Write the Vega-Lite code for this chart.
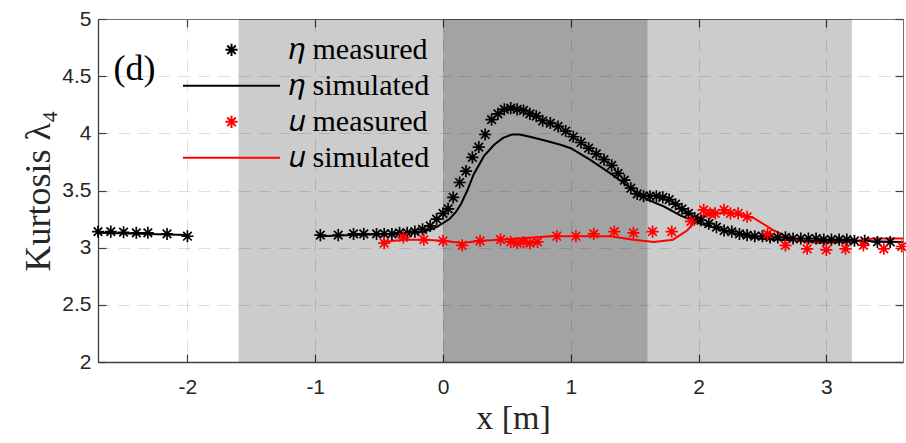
{
  "$schema": "https://vega.github.io/schema/vega-lite/v6.json",
  "width": 805,
  "height": 343,
  "autosize": "none",
  "padding": {"left": 98, "top": 19, "right": 3, "bottom": 81},
  "background": "white",
  "config": {
    "view": {"stroke": null},
    "font": "Liberation Sans",
    "axisBottom": {
      "grid": true, "gridDash": [12, 8], "gridColor": "#262626", "gridOpacity": 0.15, "gridWidth": 1,
      "domainColor": "#404040", "domainWidth": 1.3, "tickColor": "#404040", "tickSize": -8, "tickWidth": 1.2,
      "labelFont": "Liberation Sans", "labelFontSize": 21, "labelColor": "#262626", "labelPadding": 22,
      "titleFont": "Liberation Serif", "titleFontSize": 34, "titleFontWeight": "normal", "titleColor": "#262626", "titlePadding": 4,
      "zindex": 1
    },
    "axisLeft": {
      "grid": true, "gridDash": [12, 8], "gridColor": "#262626", "gridOpacity": 0.15, "gridWidth": 1,
      "domainColor": "#404040", "domainWidth": 1.3, "tickColor": "#404040", "tickSize": -8, "tickWidth": 1.2,
      "labelFont": "Liberation Sans", "labelFontSize": 21, "labelColor": "#262626", "labelPadding": 15,
      "titleFont": "Liberation Serif", "titleFontSize": 36, "titleFontWeight": "normal", "titleColor": "#262626", "titlePadding": 4,
      "zindex": 1
    },
    "axisTop": {
      "grid": false, "labels": false, "domainColor": "#707070", "domainWidth": 1, "tickColor": "#404040", "tickSize": -8, "tickWidth": 1.2, "zindex": 1
    },
    "axisRight": {
      "grid": false, "labels": false, "domainColor": "#707070", "domainWidth": 1, "tickColor": "#404040", "tickSize": -8, "tickWidth": 1.2, "zindex": 1
    }
  },
  "datasets": {
    "bands": [
      {"x0": -1.6, "x1": 3.2, "y0": 2, "y1": 5, "zone": "light"},
      {"x0": 0, "x1": 1.6, "y0": 2, "y1": 5, "zone": "dark"}
    ],
    "sim": [
      {"s": "𝜂 simulated", "g": "a", "x": -2.70, "y": 3.13},
      {"s": "𝜂 simulated", "g": "a", "x": -2.00, "y": 3.11},
      {"s": "𝜂 simulated", "g": "b", "x": -0.96, "y": 3.10},
      {"s": "𝜂 simulated", "g": "b", "x": -0.70, "y": 3.11},
      {"s": "𝜂 simulated", "g": "b", "x": -0.40, "y": 3.12},
      {"s": "𝜂 simulated", "g": "b", "x": -0.25, "y": 3.13},
      {"s": "𝜂 simulated", "g": "b", "x": -0.15, "y": 3.14},
      {"s": "𝜂 simulated", "g": "b", "x": -0.05, "y": 3.18},
      {"s": "𝜂 simulated", "g": "b", "x": 0.05, "y": 3.25},
      {"s": "𝜂 simulated", "g": "b", "x": 0.10, "y": 3.31},
      {"s": "𝜂 simulated", "g": "b", "x": 0.14, "y": 3.38},
      {"s": "𝜂 simulated", "g": "b", "x": 0.19, "y": 3.50},
      {"s": "𝜂 simulated", "g": "b", "x": 0.24, "y": 3.64},
      {"s": "𝜂 simulated", "g": "b", "x": 0.32, "y": 3.80},
      {"s": "𝜂 simulated", "g": "b", "x": 0.40, "y": 3.90},
      {"s": "𝜂 simulated", "g": "b", "x": 0.47, "y": 3.96},
      {"s": "𝜂 simulated", "g": "b", "x": 0.54, "y": 3.99},
      {"s": "𝜂 simulated", "g": "b", "x": 0.60, "y": 3.99},
      {"s": "𝜂 simulated", "g": "b", "x": 0.68, "y": 3.97},
      {"s": "𝜂 simulated", "g": "b", "x": 0.79, "y": 3.94},
      {"s": "𝜂 simulated", "g": "b", "x": 0.92, "y": 3.90},
      {"s": "𝜂 simulated", "g": "b", "x": 1.00, "y": 3.87},
      {"s": "𝜂 simulated", "g": "b", "x": 1.15, "y": 3.77},
      {"s": "𝜂 simulated", "g": "b", "x": 1.31, "y": 3.65},
      {"s": "𝜂 simulated", "g": "b", "x": 1.47, "y": 3.52},
      {"s": "𝜂 simulated", "g": "b", "x": 1.60, "y": 3.42},
      {"s": "𝜂 simulated", "g": "b", "x": 1.73, "y": 3.36},
      {"s": "𝜂 simulated", "g": "b", "x": 1.86, "y": 3.28},
      {"s": "𝜂 simulated", "g": "b", "x": 2.01, "y": 3.21},
      {"s": "𝜂 simulated", "g": "b", "x": 2.17, "y": 3.16},
      {"s": "𝜂 simulated", "g": "b", "x": 2.33, "y": 3.11},
      {"s": "𝜂 simulated", "g": "b", "x": 2.48, "y": 3.08},
      {"s": "𝜂 simulated", "g": "b", "x": 2.65, "y": 3.07},
      {"s": "𝜂 simulated", "g": "b", "x": 2.90, "y": 3.06},
      {"s": "𝜂 simulated", "g": "b", "x": 3.20, "y": 3.06},
      {"s": "𝜂 simulated", "g": "b", "x": 3.60, "y": 3.05},
      {"s": "𝑢 simulated", "g": "c", "x": -0.48, "y": 3.05},
      {"s": "𝑢 simulated", "g": "c", "x": -0.30, "y": 3.07},
      {"s": "𝑢 simulated", "g": "c", "x": -0.15, "y": 3.07},
      {"s": "𝑢 simulated", "g": "c", "x": 0.00, "y": 3.06},
      {"s": "𝑢 simulated", "g": "c", "x": 0.15, "y": 3.04},
      {"s": "𝑢 simulated", "g": "c", "x": 0.30, "y": 3.06},
      {"s": "𝑢 simulated", "g": "c", "x": 0.45, "y": 3.07},
      {"s": "𝑢 simulated", "g": "c", "x": 0.84, "y": 3.10},
      {"s": "𝑢 simulated", "g": "c", "x": 1.31, "y": 3.10},
      {"s": "𝑢 simulated", "g": "c", "x": 1.49, "y": 3.07},
      {"s": "𝑢 simulated", "g": "c", "x": 1.65, "y": 3.05},
      {"s": "𝑢 simulated", "g": "c", "x": 1.80, "y": 3.07},
      {"s": "𝑢 simulated", "g": "c", "x": 1.91, "y": 3.15},
      {"s": "𝑢 simulated", "g": "c", "x": 2.01, "y": 3.27},
      {"s": "𝑢 simulated", "g": "c", "x": 2.12, "y": 3.30},
      {"s": "𝑢 simulated", "g": "c", "x": 2.27, "y": 3.30},
      {"s": "𝑢 simulated", "g": "c", "x": 2.43, "y": 3.26},
      {"s": "𝑢 simulated", "g": "c", "x": 2.59, "y": 3.15},
      {"s": "𝑢 simulated", "g": "c", "x": 2.74, "y": 3.07},
      {"s": "𝑢 simulated", "g": "c", "x": 2.93, "y": 3.04},
      {"s": "𝑢 simulated", "g": "c", "x": 3.16, "y": 3.05},
      {"s": "𝑢 simulated", "g": "c", "x": 3.37, "y": 3.08},
      {"s": "𝑢 simulated", "g": "c", "x": 3.60, "y": 3.08}
    ],
    "meas": [
      {"s": "𝜂 measured", "x": -2.70, "y": 3.14},
      {"s": "𝜂 measured", "x": -2.60, "y": 3.14},
      {"s": "𝜂 measured", "x": -2.50, "y": 3.135},
      {"s": "𝜂 measured", "x": -2.40, "y": 3.13},
      {"s": "𝜂 measured", "x": -2.31, "y": 3.13},
      {"s": "𝜂 measured", "x": -2.16, "y": 3.12},
      {"s": "𝜂 measured", "x": -2.00, "y": 3.10},
      {"s": "𝜂 measured", "x": -0.96, "y": 3.11},
      {"s": "𝜂 measured", "x": -0.82, "y": 3.11},
      {"s": "𝜂 measured", "x": -0.70, "y": 3.12},
      {"s": "𝜂 measured", "x": -0.62, "y": 3.12},
      {"s": "𝜂 measured", "x": -0.52, "y": 3.12},
      {"s": "𝜂 measured", "x": -0.46, "y": 3.12},
      {"s": "𝜂 measured", "x": -0.40, "y": 3.12},
      {"s": "𝜂 measured", "x": -0.34, "y": 3.13},
      {"s": "𝜂 measured", "x": -0.28, "y": 3.13},
      {"s": "𝜂 measured", "x": -0.22, "y": 3.14},
      {"s": "𝜂 measured", "x": -0.16, "y": 3.16},
      {"s": "𝜂 measured", "x": -0.10, "y": 3.19},
      {"s": "𝜂 measured", "x": -0.05, "y": 3.25},
      {"s": "𝜂 measured", "x": 0.00, "y": 3.30},
      {"s": "𝜂 measured", "x": 0.04, "y": 3.34},
      {"s": "𝜂 measured", "x": 0.08, "y": 3.44},
      {"s": "𝜂 measured", "x": 0.13, "y": 3.57},
      {"s": "𝜂 measured", "x": 0.18, "y": 3.67},
      {"s": "𝜂 measured", "x": 0.23, "y": 3.79},
      {"s": "𝜂 measured", "x": 0.28, "y": 3.88},
      {"s": "𝜂 measured", "x": 0.33, "y": 3.99},
      {"s": "𝜂 measured", "x": 0.38, "y": 4.12},
      {"s": "𝜂 measured", "x": 0.43, "y": 4.17},
      {"s": "𝜂 measured", "x": 0.48, "y": 4.21},
      {"s": "𝜂 measured", "x": 0.53, "y": 4.22},
      {"s": "𝜂 measured", "x": 0.58, "y": 4.21},
      {"s": "𝜂 measured", "x": 0.63, "y": 4.20},
      {"s": "𝜂 measured", "x": 0.68, "y": 4.17},
      {"s": "𝜂 measured", "x": 0.73, "y": 4.15},
      {"s": "𝜂 measured", "x": 0.78, "y": 4.11},
      {"s": "𝜂 measured", "x": 0.84, "y": 4.09},
      {"s": "𝜂 measured", "x": 0.90, "y": 4.06},
      {"s": "𝜂 measured", "x": 0.96, "y": 4.02},
      {"s": "𝜂 measured", "x": 1.02, "y": 3.97},
      {"s": "𝜂 measured", "x": 1.08, "y": 3.92},
      {"s": "𝜂 measured", "x": 1.14, "y": 3.87},
      {"s": "𝜂 measured", "x": 1.20, "y": 3.82},
      {"s": "𝜂 measured", "x": 1.26, "y": 3.77},
      {"s": "𝜂 measured", "x": 1.32, "y": 3.72},
      {"s": "𝜂 measured", "x": 1.37, "y": 3.65},
      {"s": "𝜂 measured", "x": 1.42, "y": 3.59},
      {"s": "𝜂 measured", "x": 1.47, "y": 3.52},
      {"s": "𝜂 measured", "x": 1.52, "y": 3.47},
      {"s": "𝜂 measured", "x": 1.57, "y": 3.45},
      {"s": "𝜂 measured", "x": 1.62, "y": 3.45},
      {"s": "𝜂 measured", "x": 1.67, "y": 3.45},
      {"s": "𝜂 measured", "x": 1.72, "y": 3.44},
      {"s": "𝜂 measured", "x": 1.77, "y": 3.42},
      {"s": "𝜂 measured", "x": 1.82, "y": 3.38},
      {"s": "𝜂 measured", "x": 1.87, "y": 3.34},
      {"s": "𝜂 measured", "x": 1.92, "y": 3.30},
      {"s": "𝜂 measured", "x": 1.97, "y": 3.26},
      {"s": "𝜂 measured", "x": 2.02, "y": 3.24},
      {"s": "𝜂 measured", "x": 2.08, "y": 3.21},
      {"s": "𝜂 measured", "x": 2.14, "y": 3.18},
      {"s": "𝜂 measured", "x": 2.20, "y": 3.15},
      {"s": "𝜂 measured", "x": 2.26, "y": 3.14},
      {"s": "𝜂 measured", "x": 2.32, "y": 3.12},
      {"s": "𝜂 measured", "x": 2.38, "y": 3.11},
      {"s": "𝜂 measured", "x": 2.44, "y": 3.10},
      {"s": "𝜂 measured", "x": 2.50, "y": 3.10},
      {"s": "𝜂 measured", "x": 2.56, "y": 3.09},
      {"s": "𝜂 measured", "x": 2.62, "y": 3.09},
      {"s": "𝜂 measured", "x": 2.68, "y": 3.09},
      {"s": "𝜂 measured", "x": 2.74, "y": 3.08},
      {"s": "𝜂 measured", "x": 2.80, "y": 3.08},
      {"s": "𝜂 measured", "x": 2.86, "y": 3.08},
      {"s": "𝜂 measured", "x": 2.92, "y": 3.08},
      {"s": "𝜂 measured", "x": 2.98, "y": 3.07},
      {"s": "𝜂 measured", "x": 3.04, "y": 3.07},
      {"s": "𝜂 measured", "x": 3.10, "y": 3.07},
      {"s": "𝜂 measured", "x": 3.16, "y": 3.07},
      {"s": "𝜂 measured", "x": 3.22, "y": 3.06},
      {"s": "𝜂 measured", "x": 3.30, "y": 3.06},
      {"s": "𝜂 measured", "x": 3.40, "y": 3.05},
      {"s": "𝜂 measured", "x": 3.50, "y": 3.05},
      {"s": "𝑢 measured", "x": -0.46, "y": 3.04},
      {"s": "𝑢 measured", "x": -0.31, "y": 3.09},
      {"s": "𝑢 measured", "x": -0.15, "y": 3.07},
      {"s": "𝑢 measured", "x": 0.00, "y": 3.06},
      {"s": "𝑢 measured", "x": 0.15, "y": 3.02},
      {"s": "𝑢 measured", "x": 0.29, "y": 3.06},
      {"s": "𝑢 measured", "x": 0.45, "y": 3.07},
      {"s": "𝑢 measured", "x": 0.53, "y": 3.05},
      {"s": "𝑢 measured", "x": 0.58, "y": 3.04},
      {"s": "𝑢 measured", "x": 0.63, "y": 3.05},
      {"s": "𝑢 measured", "x": 0.68, "y": 3.04},
      {"s": "𝑢 measured", "x": 0.74, "y": 3.05},
      {"s": "𝑢 measured", "x": 0.89, "y": 3.10},
      {"s": "𝑢 measured", "x": 1.04, "y": 3.10},
      {"s": "𝑢 measured", "x": 1.18, "y": 3.12},
      {"s": "𝑢 measured", "x": 1.34, "y": 3.14},
      {"s": "𝑢 measured", "x": 1.49, "y": 3.13},
      {"s": "𝑢 measured", "x": 1.64, "y": 3.14},
      {"s": "𝑢 measured", "x": 1.79, "y": 3.14},
      {"s": "𝑢 measured", "x": 1.94, "y": 3.23},
      {"s": "𝑢 measured", "x": 2.04, "y": 3.33},
      {"s": "𝑢 measured", "x": 2.09, "y": 3.30},
      {"s": "𝑢 measured", "x": 2.13, "y": 3.30},
      {"s": "𝑢 measured", "x": 2.20, "y": 3.33},
      {"s": "𝑢 measured", "x": 2.25, "y": 3.30},
      {"s": "𝑢 measured", "x": 2.31, "y": 3.30},
      {"s": "𝑢 measured", "x": 2.38, "y": 3.27},
      {"s": "𝑢 measured", "x": 2.54, "y": 3.12},
      {"s": "𝑢 measured", "x": 2.68, "y": 3.02},
      {"s": "𝑢 measured", "x": 2.85, "y": 2.99},
      {"s": "𝑢 measured", "x": 3.00, "y": 2.98},
      {"s": "𝑢 measured", "x": 3.15, "y": 2.99},
      {"s": "𝑢 measured", "x": 3.29, "y": 3.02},
      {"s": "𝑢 measured", "x": 3.45, "y": 2.99},
      {"s": "𝑢 measured", "x": 3.59, "y": 3.01}
    ],
    "label": [{"x": -2.415, "y": 4.56, "t": "(d)"}],
    "frame": [{"x": 0, "y": 3}]
  },
  "layer": [
    {
      "layer": [
        {
          "data": {"name": "bands"},
          "mark": {"type": "rect", "fill": "#000000", "fillOpacity": 0.2},
          "encoding": {
            "x": {"field": "x0", "type": "quantitative", "title": "x [m]",
              "scale": {"domain": [-2.7, 3.6], "nice": false, "zero": false},
              "axis": {"values": [-2, -1, 0, 1, 2, 3], "labelExpr": "'' + datum.value", "titleX": 415}},
            "x2": {"field": "x1"},
            "y": {"field": "y0", "type": "quantitative", "title": "Kurtosis  λ₄",
              "scale": {"domain": [2, 5], "nice": false, "zero": false},
              "axis": {"values": [2, 2.5, 3, 3.5, 4, 4.5, 5], "labelExpr": "'' + datum.value"}},
            "y2": {"field": "y1"}
          }
        },
        {
          "data": {"name": "sim"},
          "mark": {"type": "line", "strokeWidth": 2},
          "encoding": {
            "x": {"field": "x", "type": "quantitative", "title": "x [m]"},
            "y": {"field": "y", "type": "quantitative", "title": "Kurtosis  λ₄"},
            "detail": {"field": "g"},
            "color": {"field": "s", "type": "nominal",
              "scale": {"domain": ["𝜂 measured", "𝜂 simulated", "𝑢 measured", "𝑢 simulated"], "range": ["#000000", "#000000", "#ff0000", "#ff0000"]}}
          }
        },
        {
          "data": {"name": "meas"},
          "mark": {"type": "point", "filled": false, "size": 9409, "strokeWidth": 1.7, "opacity": 1},
          "encoding": {
            "x": {"field": "x", "type": "quantitative", "title": "x [m]"},
            "y": {"field": "y", "type": "quantitative", "title": "Kurtosis  λ₄"},
            "color": {"field": "s", "type": "nominal",
              "scale": {"domain": ["𝜂 measured", "𝜂 simulated", "𝑢 measured", "𝑢 simulated"], "range": ["#000000", "#000000", "#ff0000", "#ff0000"]},
              "legend": {"title": null, "orient": "none", "legendX": 84, "legendY": 13, "symbolSize": 9409, "symbolStrokeWidth": 2, "labelFont": "Liberation Serif", "labelFontSize": 30, "labelColor": "#000000", "labelOffset": 8, "rowPadding": 0, "clipHeight": 35.7, "padding": 0}},
            "shape": {"field": "s", "type": "nominal",
              "scale": {"domain": ["𝜂 measured", "𝜂 simulated", "𝑢 measured", "𝑢 simulated"], "range": ["M-0.125,0L0.125,0M0,-0.125L0,0.125M-0.088,-0.088L0.088,0.088M-0.088,0.088L0.088,-0.088", "stroke", "M-0.125,0L0.125,0M0,-0.125L0,0.125M-0.088,-0.088L0.088,0.088M-0.088,0.088L0.088,-0.088", "stroke"]},
              "legend": {"title": null, "orient": "none", "legendX": 84, "legendY": 13, "symbolSize": 9409, "symbolStrokeWidth": 2, "labelFont": "Liberation Serif", "labelFontSize": 30, "labelColor": "#000000", "labelOffset": 8, "rowPadding": 0, "clipHeight": 35.7, "padding": 0}}
          }
        },
        {
          "data": {"name": "label"},
          "mark": {"type": "text", "font": "Liberation Serif", "fontSize": 36, "color": "#000000", "align": "center", "baseline": "middle"},
          "encoding": {
            "x": {"field": "x", "type": "quantitative", "title": "x [m]"},
            "y": {"field": "y", "type": "quantitative", "title": "Kurtosis  λ₄"},
            "text": {"field": "t"}
          }
        }
      ]
    },
    {
      "data": {"name": "frame"},
      "mark": {"type": "point", "opacity": 0},
      "encoding": {
        "x": {"field": "x", "type": "quantitative", "scale": {"domain": [-2.7, 3.6], "nice": false, "zero": false},
          "axis": {"orient": "top", "values": [-2, -1, 0, 1, 2, 3], "title": null, "labels": false, "grid": false}},
        "y": {"field": "y", "type": "quantitative", "scale": {"domain": [2, 5], "nice": false, "zero": false},
          "axis": {"orient": "right", "values": [2, 2.5, 3, 3.5, 4, 4.5, 5], "title": null, "labels": false, "grid": false}}
      }
    }
  ],
  "resolve": {"axis": {"x": "independent", "y": "independent"}}
}
